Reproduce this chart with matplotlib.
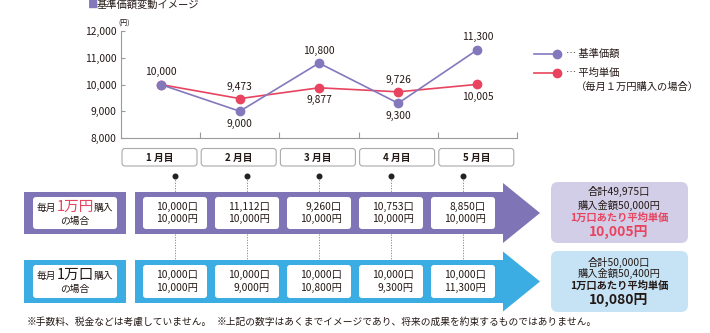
import matplotlib
matplotlib.use("Agg")
import matplotlib.pyplot as plt
from matplotlib.patches import FancyBboxPatch, Rectangle, Polygon
from matplotlib.lines import Line2D
from matplotlib.offsetbox import TextArea, HPacker, AnnotationBbox

plt.rcParams['font.family'] = ['Noto Sans CJK JP', 'DejaVu Sans']

# ---- data ----
months = ["1 月目", "2 月目", "3 月目", "4 月目", "5 月目"]
nav = [10000, 9000, 10800, 9300, 11300]          # 基準価額
avg_cost = [10000, 9473, 9877, 9726, 10005]      # 平均単価
fixed_amount_units = [10000, 11112, 9260, 10753, 8850]   # 毎月1万円購入: 口数
fixed_amount_yen = [10000, 10000, 10000, 10000, 10000]   # 毎月1万円購入: 金額
fixed_units_units = [10000, 10000, 10000, 10000, 10000]  # 毎月1万口購入: 口数
fixed_units_yen = [10000, 9000, 10800, 9300, 11300]      # 毎月1万口購入: 金額
yticks = [8000, 9000, 10000, 11000, 12000]
summary_amount = ["合計49,975口", "購入金額50,000円", "1万口あたり平均単価", "10,005円"]
summary_units = ["合計50,000口", "購入金額50,400円", "1万口あたり平均単価", "10,080円"]

PURPLE = "#8478bd"
PURPLE_BAND = "#7f75b6"
RED = "#e8445f"
BLUE = "#3badE3"
LAV = "#d3cee7"
LBLUE = "#c6e3f6"
TXT = "#231815"
GREY = "#9a9a9a"

W, H = 710, 333
fig = plt.figure(figsize=(W / 100, H / 100), dpi=100)

ov = fig.add_axes([0, 0, 1, 1], zorder=0)
ov.set_xlim(0, W)
ov.set_ylim(H, 0)
ov.axis("off")

# ---- chart ----
ax = fig.add_axes([121 / W, 1 - 138 / H, (517 - 121) / W, (138 - 31) / H], zorder=2)
ax.patch.set_alpha(0)
x = list(range(len(months)))
ax.plot(x, nav, color=PURPLE, lw=1.2, marker="o", ms=6, zorder=3)
ax.plot(x, avg_cost, color=RED, lw=1.2, marker="o", ms=6, zorder=2)
ax.set_xlim(-0.5, len(months) - 0.5)
ax.set_ylim(8000, 12000)
ax.set_yticks(yticks)
ax.set_yticklabels([f"{v:,}" for v in yticks], fontsize=7.4, color=TXT)
ax.set_xticks([])
ax.set_xticks([i + 0.5 for i in range(len(months))], minor=True)
ax.tick_params(axis="x", which="minor", direction="in", length=4, color=GREY, width=0.8)
ax.tick_params(axis="y", direction="in", length=3, color=GREY, width=0.8, pad=3)
for s in ["top", "right"]:
    ax.spines[s].set_visible(False)
for s in ["left", "bottom"]:
    ax.spines[s].set_color(GREY)
    ax.spines[s].set_linewidth(0.8)

nav_pos = ["above", "below", "above", "below", "above"]
avg_pos = [None, "above", "below", "above", "below"]
for i, v in enumerate(nav):
    dy = 9 if nav_pos[i] == "above" else -9.5
    ax.annotate(f"{v:,}", (i, v), xytext=(0, dy), textcoords="offset points",
                ha="center", va="center", fontsize=7.4, color=TXT)
for i, v in enumerate(avg_cost):
    if avg_pos[i] is None:
        continue
    dy = 8.5 if avg_pos[i] == "above" else -9
    ax.annotate(f"{v:,}", (i, v), xytext=(0, dy), textcoords="offset points",
                ha="center", va="center", fontsize=7.4, color=TXT)

# title and unit
ov.text(88, 5, "■", color=PURPLE, fontsize=7.4, va="center", ha="left")
ov.text(97, 5, "基準価額変動イメージ", color=TXT, fontsize=7.4, va="center", ha="left")
ov.text(124, 24, "(円)", color=TXT, fontsize=5, va="center", ha="center")

# legend
ov.add_line(Line2D([534, 557], [53.5, 53.5], color=PURPLE, lw=1.2))
ov.plot([557], [53.5], "o", color=PURPLE, ms=6)
ov.text(566, 53.5, "… 基準価額", fontsize=7.4, color=TXT, va="center")
ov.add_line(Line2D([534, 557], [72.5, 72.5], color=RED, lw=1.2))
ov.plot([557], [72.5], "o", color=RED, ms=6)
ov.text(566, 72.5, "… 平均単価", fontsize=7.4, color=TXT, va="center")
ov.text(576, 86.5, "（毎月１万円購入の場合）", fontsize=7.4, color=TXT, va="center")

# month boxes
for i, m in enumerate(months):
    x0 = 122 + i * 79.2
    ov.add_patch(FancyBboxPatch((x0, 148.5), 75, 17.5,
                                boxstyle="round,pad=0,rounding_size=3",
                                fc="white", ec="#aaaaaa", lw=0.8))
    ov.text(x0 + 37.5, 157.5, m, fontsize=7, color=TXT, ha="center", va="center",
            fontweight="bold")

# bands
def band(y0, y1, color):
    ov.add_patch(Rectangle((24, y0), 102, y1 - y0, fc=color, ec="none"))
    ov.add_patch(Rectangle((135, y0), 503 - 135, y1 - y0, fc=color, ec="none"))
    mid = (y0 + y1) / 2
    ov.add_patch(Polygon([(503, mid - 30), (540, mid), (503, mid + 30)],
                         closed=True, fc=color, ec="none"))
    ov.add_patch(FancyBboxPatch((33, y0 + 5), 84, y1 - y0 - 10,
                                boxstyle="round,pad=0,rounding_size=3",
                                fc="white", ec="none"))

band(192, 234, PURPLE_BAND)
band(260, 303, BLUE)

# dots + dotted connectors
for i in range(len(months)):
    cx = 175 + i * 72
    ov.plot([cx], [176], "o", color="#222222", ms=3.3, zorder=5)
    ov.add_line(Line2D([cx, cx], [177, 192], color="#888888", lw=0.7, ls=(0, (1.2, 1.5))))
    ov.add_line(Line2D([cx, cx], [234, 260], color="#888888", lw=0.7, ls=(0, (1.2, 1.5))))

# inner month cells
def cells(y0, y1, units, yen):
    for i in range(len(units)):
        bx = 143 + i * 72
        ov.add_patch(FancyBboxPatch((bx, y0), 64, y1 - y0,
                                    boxstyle="round,pad=0,rounding_size=3",
                                    fc="white", ec="none"))
        ym = (y0 + y1) / 2
        ov.text(bx + 55, ym - 6.3, f"{units[i]:,}口", fontsize=7.4, color=TXT,
                ha="right", va="center")
        ov.text(bx + 55, ym + 6.3, f"{yen[i]:,}円", fontsize=7.4, color=TXT,
                ha="right", va="center")

cells(197, 229, fixed_amount_units, fixed_amount_yen)
cells(265, 298, fixed_units_units, fixed_units_yen)

# left labels with mixed sizes
def mixed_label(y, big, big_color):
    parts = HPacker(children=[
        TextArea("毎月", textprops=dict(fontsize=7, color=TXT)),
        TextArea(big, textprops=dict(fontsize=10.5, color=big_color)),
        TextArea("購入", textprops=dict(fontsize=7, color=TXT)),
    ], align="baseline", pad=0, sep=0)
    ov.add_artist(AnnotationBbox(parts, (75, y), frameon=False, pad=0,
                                 box_alignment=(0.5, 0.5), zorder=6))

mixed_label(207, "1万円", RED)
ov.text(75, 221, "の場合", fontsize=7, color=TXT, ha="center", va="center")
mixed_label(275, "1万口", TXT)
ov.text(75, 289, "の場合", fontsize=7, color=TXT, ha="center", va="center")

# summary boxes
def summary(y0, y1, fc, lines, ys, accent):
    ov.add_patch(FancyBboxPatch((551, y0), 137, y1 - y0,
                                boxstyle="round,pad=0,rounding_size=7",
                                fc=fc, ec="none"))
    cx = 619
    ov.text(cx, ys[0], lines[0], fontsize=7.4, color=TXT, ha="center", va="center")
    ov.text(cx, ys[1], lines[1], fontsize=7.4, color=TXT, ha="center", va="center")
    ov.text(cx, ys[2], lines[2], fontsize=7.4, color=accent, ha="center", va="center",
            fontweight="bold")
    ov.text(cx, ys[3], lines[3], fontsize=10, color=accent, ha="center", va="center",
            fontweight="bold")

summary(182, 243, LAV, summary_amount, [191, 205.5, 218, 232], RED)
summary(251, 312, LBLUE, summary_units, [262.5, 273.5, 285.5, 300], TXT)

# footnotes
ov.text(27, 322, "※手数料、税金などは考慮していません。", fontsize=7, color=TXT,
        ha="left", va="center")
ov.text(217, 322, "※上記の数字はあくまでイメージであり、将来の成果を約束するものではありません。",
        fontsize=7, color=TXT, ha="left", va="center")

fig.savefig("out.png", dpi=100)
